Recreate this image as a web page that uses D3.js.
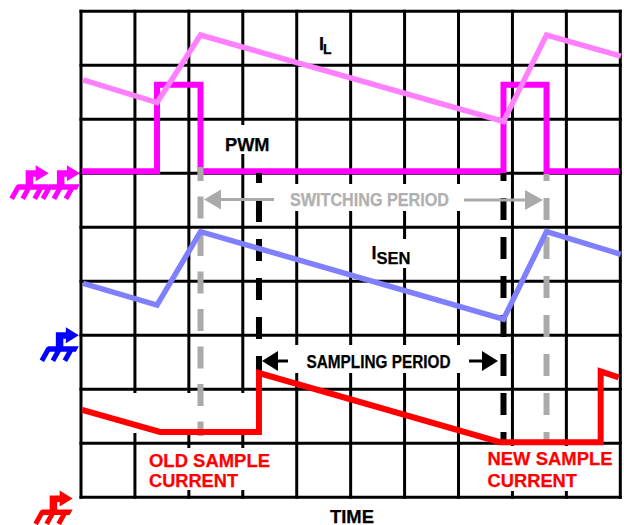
<!DOCTYPE html>
<html><head><meta charset="utf-8">
<script src="https://cdn.jsdelivr.net/npm/d3@7"></script>
<style>
html,body{margin:0;padding:0;background:#fff}
svg{display:block}
text{font-family:"Liberation Sans",Arial,sans-serif;font-weight:bold}
</style></head><body>
<svg id="c" width="624" height="525"></svg>
<script>
// Data, in grid divisions
const gridX = [0,1,2,3,4,5,6,7,8,9,10];
const gridY = [0,1,2,3,4,5,6,7,8,9];
const ilT = [0.04,1.41,2.216,7.834,8.632,10.01];
const ilV = [7.73,7.31,8.56,6.96,8.56,8.17];
const pwmT = [0.02,1.41,1.41,2.216,2.216,7.834,7.834,8.632,8.632,9.99];
const pwmV = [6.04,6.04,7.64,7.64,6.04,6.04,7.64,7.64,6.04,6.04];
const isenT = [0.04,1.41,2.216,7.834,8.632,10.01];
const isenV = [3.96,3.56,4.92,3.30,4.92,4.50];
const sampleT = [0.02,1.465,3.30,3.30,7.77,9.636,9.636,9.97];
const sampleV = [1.62,1.21,1.21,2.30,1.02,1.02,2.33,2.22];
const switchEdges = [2.216,8.632];
const sampleEdges = [3.30,7.834];
const groundLevels = [
  {v:6,dt:[-0.6,-0.02],color:"#ff00ff"},
  {v:3,dt:[-0.04],color:"#0000ff"},
  {v:-0.02,dt:[-0.155],color:"#ff0000"}
];

const svg = d3.select("#c");
const x = d3.scaleLinear().domain([0,10]).range([81,620.3]);
const y = d3.scaleLinear().domain([0,9]).range([497.3,11.3]);

// grid
const gridG = svg.append("g");
gridG.append("g").attr("transform","translate(0,497.3)")
  .call(d3.axisBottom(x).tickValues(gridX).tickSize(-486).tickFormat("").offset(0));
gridG.append("g").attr("transform","translate(81,0)")
  .call(d3.axisLeft(y).tickValues(gridY).tickSize(-539.3).tickFormat("").offset(0));
gridG.selectAll(".domain").remove();
gridG.selectAll("line").attr("stroke","#000").attr("stroke-width",3).attr("stroke-linecap","square");

// white knock-outs behind labels
const boxes = [
  [222,125,53,29],[285,184,177,27],[289,345,176,28],[365,239,50,29],
  [120,393,136,40],[146,448,126,42],[485,446,131,45]
];
svg.append("g").selectAll("rect").data(boxes).join("rect")
  .attr("x",d=>d[0]).attr("y",d=>d[1]).attr("width",d=>d[2]).attr("height",d=>d[3]).attr("fill","#fff");

const line = d3.line().x(d=>x(d[0])).y(d=>y(d[1]));
const zip = (a,b)=>a.map((t,i)=>[t,b[i]]);
function trace(T,V,color,w){
  svg.append("path").attr("d",line(zip(T,V))).attr("fill","none")
    .attr("stroke",color).attr("stroke-width",w).attr("stroke-linejoin","miter").attr("stroke-miterlimit",3);
}
function dash(t,y0,y1,color,pat,off){
  svg.append("line").attr("x1",x(t)).attr("x2",x(t)).attr("y1",y0).attr("y2",y1)
    .attr("stroke",color).attr("stroke-width",6).attr("stroke-dasharray",pat).attr("stroke-dashoffset",off);
}

trace(pwmT,pwmV,"#ff00ff",6);
trace(ilT,ilV,"#ff80ff",5.5);
dash(switchEdges[0],167,436,"#aaaaaa","22 15.5",8);
dash(switchEdges[1],174,440,"#aaaaaa","22 17",15);
dash(sampleEdges[0],173,371,"#000","22 17",12);
dash(sampleEdges[1],173,442,"#000","22 17",14);
trace(isenT,isenV,"#8080ff",5.5);
trace(sampleT,sampleV,"#ff0000",6);

// arrows: tip, tail, head length, half height
function arrow(tx,tail,yy,len,hh,color){
  const dir = Math.sign(tail-tx);
  svg.append("line").attr("x1",tail).attr("x2",tx+dir*len).attr("y1",yy).attr("y2",yy)
    .attr("stroke",color).attr("stroke-width",3);
  svg.append("path").attr("fill",color)
    .attr("d",`M${tx},${yy}L${tx+dir*len},${yy-hh}L${tx+dir*len},${yy+hh}Z`);
}
arrow(204,274,199.5,17,10,"#aaaaaa");
arrow(543,464,200,18,10,"#aaaaaa");
arrow(262,288,361,16,10,"#000");
arrow(498,469,361,16,10,"#000");

// ground symbols
function ground(tx,ty,color){
  const g = svg.append("g").attr("transform",`translate(${tx},${ty})`);
  g.append("path").attr("fill",color)
   .attr("d","M0,0L-13,-8L-13,-3L-23,-3L-23,11L-31,11L-34,16.5L-3,16.5L0,11L-15.5,11L-15.5,3.5L-13,3.5L-13,8Z");
  [[-30,13,-37,25.5],[-19,13,-26,25.5],[-7,13,-14,25.5]].forEach(s=>{
    g.append("line").attr("x1",s[0]).attr("y1",s[1]).attr("x2",s[2]).attr("y2",s[3])
     .attr("stroke",color).attr("stroke-width",5);
  });
}
groundLevels.forEach(l=>l.dt.forEach(d=>ground(x(d),y(l.v),l.color)));

// labels
function label(px,py,s,size,color,w){
  const t = svg.append("text").attr("x",px).attr("y",py).attr("font-size",size).attr("fill",color||"#000").text(s)
    .attr("stroke",color||"#000").attr("stroke-width",0.25);
  if(w) t.attr("textLength",w).attr("lengthAdjust","spacingAndGlyphs");
  return t;
}
label(225,150.5,"PWM",18,"#000",44.5);
label(319,49.5,"I",18);
label(323,53.5,"L",14);
label(371.5,258.5,"I",18);
label(376.5,264,"SEN",16.5,"#000",34);
label(290,205.5,"SWITCHING PERIOD",18,"#b0b0b0",159);
label(306.5,367.5,"SAMPLING PERIOD",18,"#000",144);
label(149,466.5,"OLD SAMPLE",18.4,"#ff0000",121);
label(149,486.5,"CURRENT",18.4,"#ff0000",89);
label(487.5,465,"NEW SAMPLE",18.4,"#ff0000",125);
label(487.5,486.5,"CURRENT",18.4,"#ff0000",89.5);
label(330,522.5,"TIME",18.3,"#000",44);
</script>
</body></html>
